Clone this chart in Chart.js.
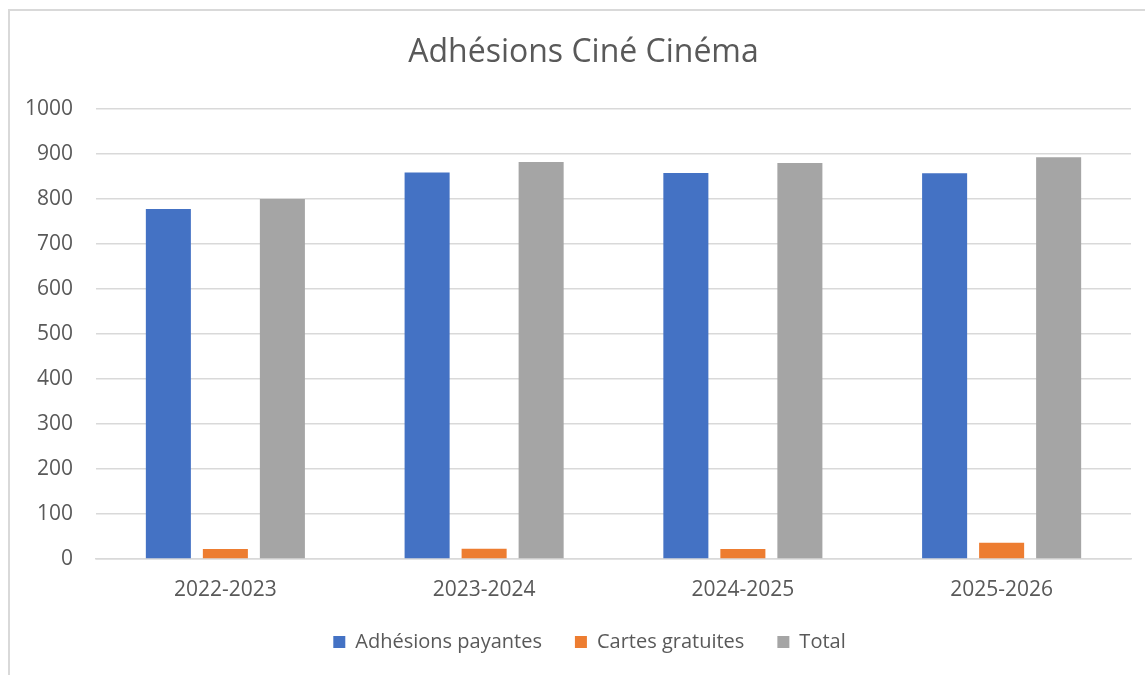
<!DOCTYPE html>
<html>
<head>
<meta charset="utf-8">
<script src="https://cdn.jsdelivr.net/npm/chart.js@4.4.1/dist/chart.umd.min.js"></script>
<style>
  html, body { margin: 0; padding: 0; background: #fff; overflow: hidden; }
  #frame { position: absolute; left: 8px; top: 9px; width: 1200px; height: 700px;
           border-top: 2px solid #d9d9d9; border-left: 2px solid #d9d9d9; }
  #wrap { position: absolute; left: 0; top: 0; width: 1145px; height: 675px; }
</style>
</head>
<body>
<div id="frame"></div>
<div id="wrap"><canvas id="c" width="1145" height="675"></canvas></div>
<script>
const categories = ["2022-2023", "2023-2024", "2024-2025", "2025-2026"];
const adhesionsPayantes = [778, 859, 858, 857];
const cartesGratuites = [22, 23, 22, 36];
const total = [800, 882, 880, 893];
const seriesNames = ["Adhésions payantes", "Cartes gratuites", "Total"];
const yTicks = [0, 100, 200, 300, 400, 500, 600, 700, 800, 900, 1000];

const FONT = "'Open Sans', sans-serif";
const TXT = "#595959";

const shiftBoxes = {
  id: 'shiftBoxes',
  afterLayout(chart) {
    if (chart.legend) { chart.legend.left = 48; }
    if (chart.titleBlock) { chart.titleBlock.left = 36; }
  }
};

new Chart(document.getElementById('c'), {
  type: 'bar',
  data: {
    labels: categories,
    datasets: [
      { label: seriesNames[0], data: adhesionsPayantes, backgroundColor: '#4472C4' },
      { label: seriesNames[1], data: cartesGratuites, backgroundColor: '#ED7D31' },
      { label: seriesNames[2], data: total, backgroundColor: '#A5A5A5' }
    ]
  },
  plugins: [shiftBoxes],
  options: {
    responsive: false,
    animation: false,
    devicePixelRatio: 1,
    categoryPercentage: 0.661,
    barPercentage: 0.79,
    layout: { padding: { left: 0, right: 14, top: 34, bottom: 13 } },
    plugins: {
      title: {
        display: true,
        text: 'Adhésions Ciné Cinéma',
        color: TXT,
        font: { family: FONT, size: 32, weight: 'normal' },
        padding: { top: 0, bottom: 36.6 }
      },
      legend: {
        position: 'bottom',
        labels: {
          color: TXT,
          font: { family: FONT, size: 20 },
          boxWidth: 12, boxHeight: 12,
          padding: 33
        }
      },
      tooltip: { enabled: false }
    },
    scales: {
      x: {
        afterFit: (s) => { s.height = 40; },
        grid: { display: false, drawTicks: false },
        border: { display: true, color: '#d9d9d9', width: 1.5 },
        ticks: { color: TXT, font: { family: FONT, size: 21 }, padding: 18.4 }
      },
      y: {
        min: 0, max: 1000,
        afterFit: (s) => { s.width = 96; },
        afterBuildTicks: (s) => { s.ticks = yTicks.map(v => ({ value: v })); },
        grid: { color: '#d9d9d9', lineWidth: 1.5, drawTicks: false },
        border: { display: false },
        ticks: { color: TXT, font: { family: FONT, size: 21 }, padding: 23,
                 callback: (v) => String(v) }
      }
    }
  }
});
</script>
</body>
</html>
